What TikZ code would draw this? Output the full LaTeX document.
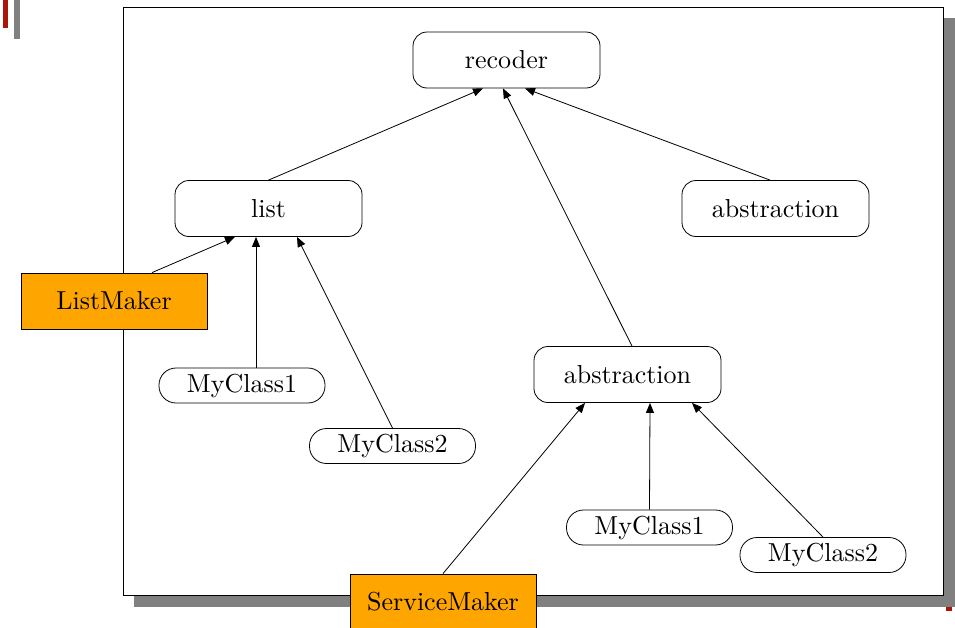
\documentclass[tikz,border=0pt]{standalone}
\usepackage{graphicx}
\usetikzlibrary{arrows.meta}
\definecolor{orng}{RGB}{255,165,0}
\definecolor{shadowgray}{RGB}{128,128,128}
\definecolor{barred}{RGB}{170,20,10}
\newcommand{\bigtxt}[1]{\scalebox{2.6}{\normalsize #1}}
\begin{document}
\begin{tikzpicture}[x=1pt,y=-1pt,
  rbox/.style={draw,rounded corners=14pt,minimum width=187pt,minimum height=56pt,inner sep=0pt,line width=0.8pt},
  pill/.style={draw,rounded corners=17pt,minimum width=166pt,minimum height=35pt,inner sep=0pt,line width=0.8pt},
  maker/.style={draw,fill=orng,minimum width=186pt,minimum height=56pt,inner sep=0pt,line width=0.8pt},
  arr/.style={-{Triangle[length=10pt,width=8pt]},line width=0.8pt}]
\useasboundingbox (0,0) rectangle (955,627);
% decorations
\fill[barred] (3,0) rectangle (8,28);
\fill[shadowgray] (14,0) rectangle (20,39);
% frame with shadow
\fill[shadowgray] (134,18) rectangle (955,607);
\draw[fill=white,line width=1pt] (123,7) rectangle (943,595);
\fill[barred] (946,607) rectangle (952,611);
% nodes
\node[rbox] (rec) at (506.5,60) {\bigtxt{recoder}};
\node[rbox] (list) at (268.5,208.5) {\bigtxt{list}};
\node[rbox] (absR) at (775.5,208.5) {\bigtxt{abstraction}};
\node[rbox] (absM) at (627.5,374.5) {\bigtxt{abstraction}};
\node[pill] (mc1L) at (242,385.5) {\bigtxt{MyClass1}};
\node[pill] (mc2L) at (392.5,446) {\bigtxt{MyClass2}};
\node[pill] (mc1R) at (649.5,527.5) {\bigtxt{MyClass1}};
\node[pill] (mc2R) at (823,555) {\bigtxt{MyClass2}};
\node[maker] (lm) at (114,301) {\bigtxt{ListMaker}};
\node[maker] (sm) at (443,602) {\bigtxt{ServiceMaker}};
% edges
\draw[arr] (list.north) -- ([xshift=-23.5pt]rec.south);
\draw[arr] ([xshift=4.5pt]absM.north) -- ([xshift=-3.5pt]rec.south);
\draw[arr] ([xshift=-5.5pt]absR.north) -- ([xshift=18.5pt]rec.south);
\draw[arr] ([xshift=38pt]lm.north) -- ([xshift=-33.5pt]list.south);
\draw[arr] ([xshift=14pt]mc1L.north) -- ([xshift=-12.5pt]list.south);
\draw[arr] (mc2L.north) -- ([xshift=28.5pt]list.south);
\draw[arr] (sm.north) -- ([xshift=-42.5pt]absM.south);
\draw[arr] (mc1R.north) -- ([xshift=22.5pt]absM.south);
\draw[arr] (mc2R.north) -- ([xshift=64.5pt]absM.south);
\end{tikzpicture}
\end{document}
